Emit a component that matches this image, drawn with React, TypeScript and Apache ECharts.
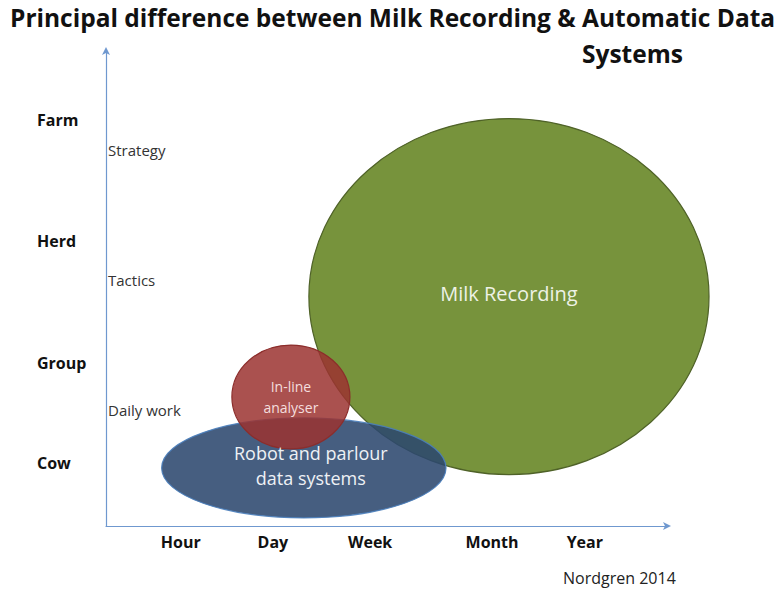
import React, { useEffect, useRef } from "react";
import * as echarts from "echarts";

const timeLabels = ["Hour", "Day", "Week", "Month", "Year"];
const timePositions = [1.33, 2.97, 4.7, 6.87, 8.52];

const levelLabels = ["Cow", "Group", "Herd", "Farm"];
const levelPositions = [1.32, 3.42, 5.99, 8.53];

const decisionLabels = ["Daily work", "Tactics", "Strategy"];
const decisionPositions = [2.44, 5.17, 7.9];

const systemNames = ["Milk Recording", "Robot and parlour\ndata systems", "In-line\nanalyser"];
const centerX = [7.17, 3.52, 3.29];
const centerY = [4.82, 1.22, 2.71];
const radiusX = [3.56, 2.53, 1.05];
const radiusY = [3.74, 1.05, 1.09];

const titleLine1 = "Principal difference between Milk Recording & Automatic Data";
const titleLine2 = "Systems";
const sourceText = "Nordgren 2014";

const FONT = "'Open Sans', Lato, sans-serif";

const fills = ["#77933c", "rgba(44,72,110,0.88)", "rgba(155,50,48,0.85)"];
const strokes = ["#4f6228", "rgba(74,126,187,0.9)", "#8c2d2b"];
const labelSizes = [20, 18, 14];
const labelColors = ["#eef2e6", "#eef1f5", "#f4dede"];
const labelShift = [[0, -3], [7, -2], [0, 0]];

export default function App() {
  const ref = useRef<HTMLDivElement>(null);
  useEffect(() => {
    if (!ref.current) return;
    const chart = echarts.init(ref.current, null, { renderer: "svg" });
    const data = systemNames.map((n, i) => [centerX[i], centerY[i], radiusX[i], radiusY[i], i]);
    const axisLineStyle = { color: "#6f98cf", width: 1.2 };
    chart.setOption({
      animation: false,
      backgroundColor: "#ffffff",
      grid: { left: 106, right: 112, top: 50, bottom: 63 },
      xAxis: {
        type: "value",
        min: 0,
        max: 10,
        axisLine: { show: true, lineStyle: axisLineStyle, symbol: ["none", "arrow"], symbolSize: [6, 8], symbolOffset: [0, 3] },
        axisTick: { show: false },
        splitLine: { show: false },
        axisLabel: {
          customValues: timePositions,
          formatter: (v: number) => timeLabels[timePositions.indexOf(v)] ?? "",
          fontFamily: FONT,
          fontWeight: "bold",
          fontSize: 16,
          color: "#111",
          margin: 8,
        },
      },
      yAxis: [
        {
          type: "value",
          min: 0,
          max: 10,
          axisLine: { show: true, lineStyle: axisLineStyle, symbol: ["none", "arrow"], symbolSize: [6, 8], symbolOffset: [0, 3] },
          axisTick: { show: false },
          splitLine: { show: false },
          axisLabel: {
            customValues: levelPositions,
            formatter: (v: number) => levelLabels[levelPositions.indexOf(v)] ?? "",
            fontFamily: FONT,
            fontWeight: "bold",
            fontSize: 16,
            color: "#111",
            align: "left",
            margin: 69,
          },
        },
        {
          type: "value",
          min: 0,
          max: 10,
          position: "left",
          axisLine: { show: false },
          axisTick: { show: false },
          splitLine: { show: false },
          axisLabel: {
            inside: true,
            customValues: decisionPositions,
            formatter: (v: number) => decisionLabels[decisionPositions.indexOf(v)] ?? "",
            fontFamily: FONT,
            fontSize: 15,
            color: "#333",
            margin: 2,
          },
        },
      ],
      graphic: [
        {
          type: "text",
          left: 10,
          top: 5,
          style: { text: titleLine1, font: `bold 24.5px ${FONT}`, fill: "#111" },
        },
        {
          type: "text",
          left: 582,
          top: 41,
          style: { text: titleLine2, font: `bold 24.5px ${FONT}`, fill: "#111" },
        },
        {
          type: "text",
          left: 563,
          top: 570,
          style: { text: sourceText, font: `16px ${FONT}`, fill: "#222" },
        },
      ],
      series: [
        {
          type: "custom",
          coordinateSystem: "cartesian2d",
          data,
          clip: false,
          renderItem: (params: any, api: any) => {
            const i = api.value(4);
            const c = api.coord([api.value(0), api.value(1)]);
            const s = api.size([api.value(2), api.value(3)]);
            return {
              type: "ellipse",
              shape: { cx: c[0], cy: c[1], rx: s[0], ry: s[1] },
              style: { fill: fills[i], stroke: strokes[i], lineWidth: 1.2 },
              textContent: {
                style: {
                  text: systemNames[i],
                  fill: labelColors[i],
                  font: `${labelSizes[i]}px ${FONT}`,
                  align: "center",
                  verticalAlign: "middle",
                  lineHeight: labelSizes[i] + 7,
                },
              },
              textConfig: { position: "inside", offset: labelShift[i] },
            };
          },
        },
      ],
    });
    return () => chart.dispose();
  }, []);
  return <div ref={ref} style={{ width: 780, height: 589, position: "absolute", left: 0, top: 0 }} />;
}
